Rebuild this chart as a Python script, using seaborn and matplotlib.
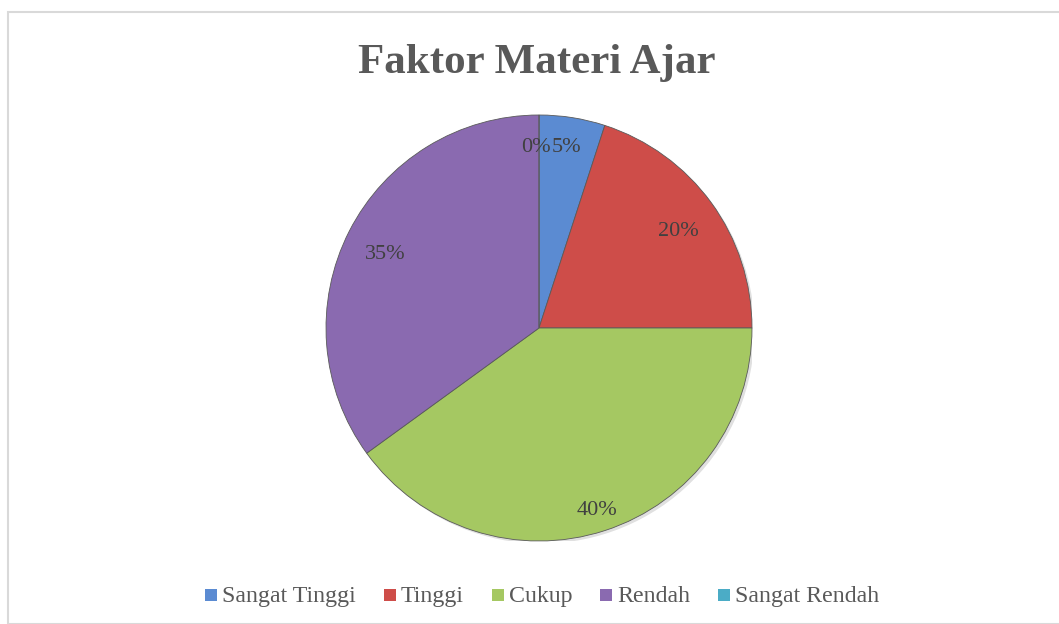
import matplotlib
matplotlib.use("Agg")
import matplotlib.pyplot as plt
import seaborn as sns
from matplotlib.patches import Rectangle, Circle

categories = ["Sangat Tinggi", "Tinggi", "Cukup", "Rendah", "Sangat Rendah"]
values = [5, 20, 40, 35, 0]
title = "Faktor Materi Ajar"

sns.set_theme(style="white")
plt.rcParams['font.family'] = ['Liberation Serif', 'DejaVu Serif']

colors = ["#5B8BD2", "#CE4D49", "#A5C862", "#8A6AB0", "#4BACC6"]
label_dist = [0.88, 0.81, 0.88, 0.81, 0.87]

W, H = 1059, 624
fig = plt.figure(figsize=(W / 100, H / 100), dpi=100)

# chart frame
fig.patches.append(Rectangle((8 / W, 0), 1, 1 - 12 / H, transform=fig.transFigure,
                             fill=False, edgecolor="#D9D9D9", linewidth=1.5))

cx, cy, r = 539, 328, 213
ax = fig.add_axes([(cx - r) / W, (H - cy - r) / H, 2 * r / W, 2 * r / H])
# soft shadow
ax.add_patch(Circle((0.012, -0.012), 1.0, facecolor="#000000", alpha=0.12, zorder=0, edgecolor='none'))
wedges, texts, autotexts = ax.pie(values, colors=colors, startangle=90, counterclock=False,
                                  autopct='%.0f%%', pctdistance=1.0,
                                  wedgeprops=dict(edgecolor="#5a5a5a", linewidth=0.6),
                                  textprops=dict(fontsize=16, color="#404040"))
ax.set_xlim(-1, 1)
ax.set_ylim(-1, 1)
ax.set_aspect('equal')

for t, d in zip(autotexts, label_dist):
    x, y = t.get_position()
    t.set_position((x * d, y * d - 0.022))

# keep the 0% and 5% labels side by side
autotexts[4].set_ha('right')
x0, y0 = autotexts[4].get_position()
autotexts[4].set_position((x0 + 0.055, y0))
x1, y1 = autotexts[0].get_position()
autotexts[0].set_position((x1 - 0.01, y1))

fig.text(537 / W, 1 - 63 / H, title, ha='center', va='center', fontsize=31,
         fontweight='bold', color="#595959")

# legend row (baseline-aligned)
renderer = fig.canvas.get_renderer()
sq, pad, gap, fs = 12, 5, 28, 17.2
base_y = 602
items = []
for name in categories:
    t = fig.text(0, 1 - base_y / H, name, fontsize=fs, color="#595959", va='baseline', ha='left')
    w = t.get_window_extent(renderer).width
    items.append((t, w))
total = sum(sq + pad + w for _, w in items) + gap * (len(items) - 1)
x = 542 - total / 2
for (t, w), c in zip(items, colors):
    fig.patches.append(Rectangle((x / W, 1 - (base_y - 1) / H), sq / W, sq / H,
                                 transform=fig.transFigure, facecolor=c, edgecolor='none'))
    t.set_position(((x + sq + pad) / W, 1 - base_y / H))
    x += sq + pad + w + gap

fig.savefig("out.png", dpi=100)
